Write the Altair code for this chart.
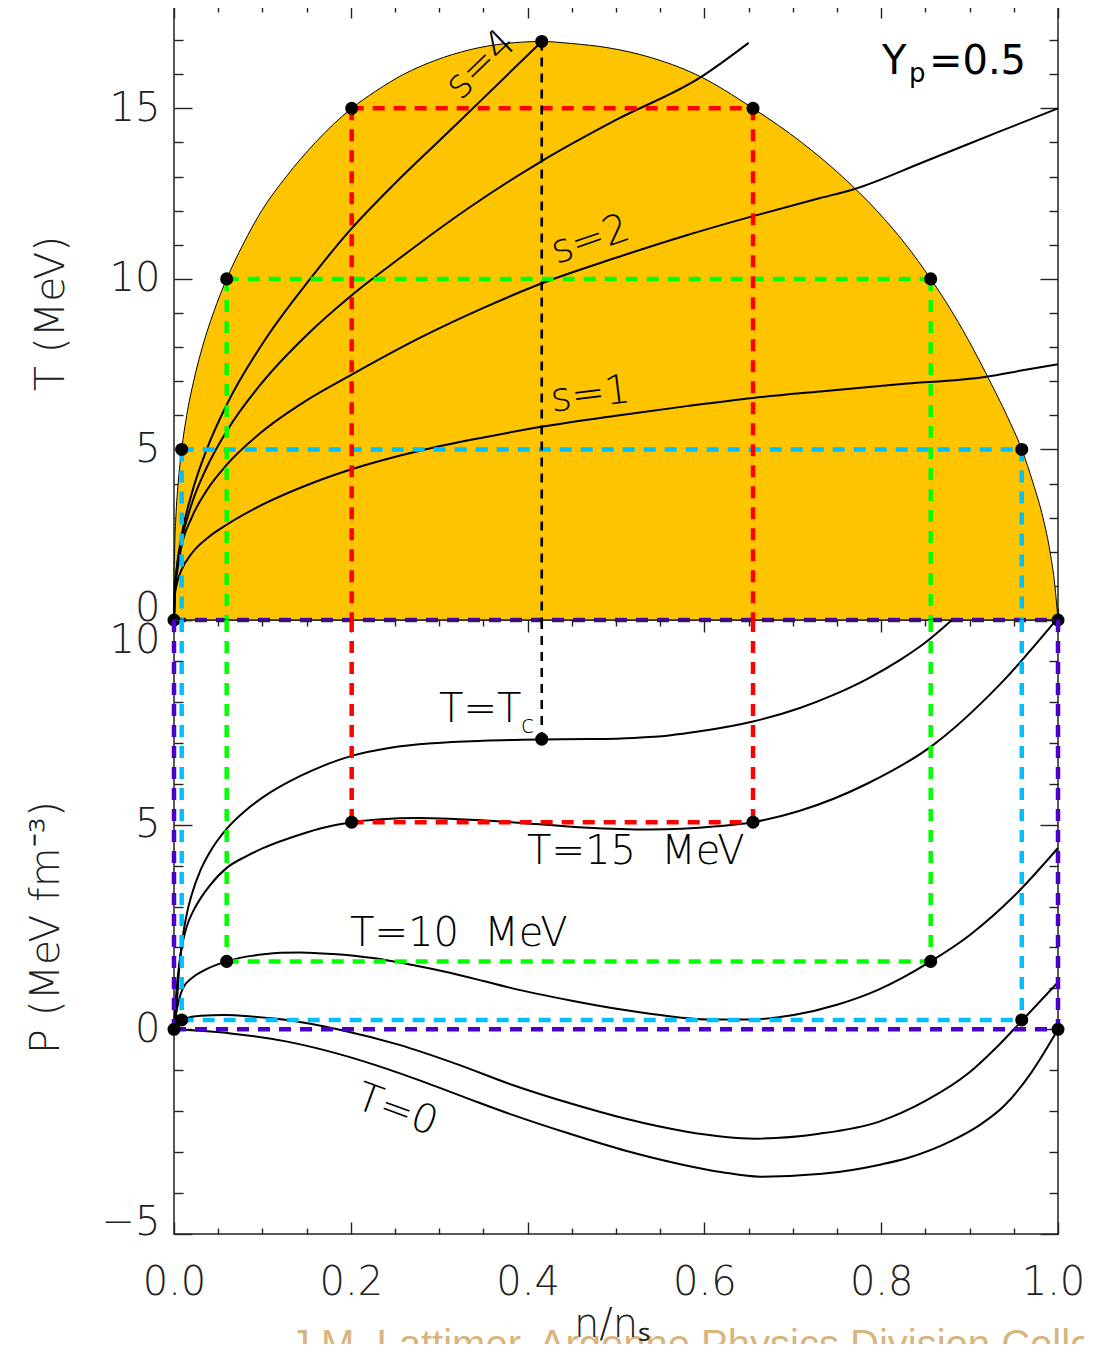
import altair as alt
import pandas as pd

# ---------------- values ----------------
# upper panel: liquid-gas coexistence boundary T(n/ns)
dome_x = [0.0, 0.0001, 0.00068, 0.0021, 0.0047, 0.0087, 0.0144, 0.0222, 0.0321, 0.0445, 0.0596,
          0.0779, 0.0992, 0.127, 0.160, 0.201, 0.228, 0.26, 0.295, 0.335, 0.375, 0.416, 0.45,
          0.49, 0.538, 0.59, 0.655, 0.710, 0.756, 0.795, 0.828, 0.856, 0.881, 0.903, 0.923,
          0.942, 0.959, 0.972, 0.983, 0.991, 0.9965, 1.0]
dome_T = [0.0, 1.0, 2.0, 3.0, 4.0, 5.0, 6.0, 7.0, 8.0, 9.0, 10.0,
          11.0, 12.0, 13.0, 14.0, 15.0, 15.5, 16.0, 16.4, 16.72, 16.9, 16.96, 16.9,
          16.78, 16.5, 16.0, 15.0, 14.0, 13.0, 12.0, 11.0, 10.0, 9.0, 8.0, 7.0,
          6.0, 5.0, 4.0, 3.0, 2.0, 1.0, 0.0]

# isentropes (entropy per baryon s = 1, 2, 3, 4)
s1_x = [0.0, 0.001, 0.003, 0.008, 0.02, 0.04, 0.06, 0.1, 0.15, 0.2, 0.278, 0.35, 0.417,
        0.5, 0.58, 0.655, 0.731, 0.82, 0.919, 0.96, 1.0]
s1_T = [0.0, 0.73, 1.04, 1.44, 1.95, 2.45, 2.8, 3.38, 3.95, 4.41, 4.96, 5.35, 5.67,
        5.99, 6.27, 6.51, 6.70, 6.91, 7.13, 7.32, 7.5]
s2_x = [0.0, 0.001, 0.003, 0.008, 0.02, 0.037, 0.06, 0.1, 0.15, 0.2, 0.278, 0.35, 0.417,
        0.5, 0.58, 0.655, 0.731, 0.768, 0.85, 0.93, 1.0]
s2_T = [0.0, 0.82, 1.3, 2.1, 3.0, 3.8, 4.56, 5.53, 6.44, 7.18, 8.27, 9.15, 9.88,
        10.62, 11.28, 11.84, 12.37, 12.62, 13.45, 14.28, 15.0]
s3_x = [0.0, 0.001, 0.003, 0.008, 0.02, 0.037, 0.06, 0.1, 0.15, 0.2, 0.256, 0.33, 0.417,
        0.5, 0.595, 0.65]
s3_T = [0.0, 0.89, 1.46, 2.26, 3.4, 4.47, 5.55, 6.97, 8.35, 9.5, 10.62, 12.02, 13.47,
        14.66, 15.9, 16.92]
s4_x = [0.0, 0.001, 0.003, 0.008, 0.02, 0.037, 0.06, 0.1, 0.154, 0.2, 0.25, 0.3, 0.35, 0.416]
s4_T = [0.0, 0.9, 1.5, 2.4, 3.7, 5.0, 6.33, 8.1, 10.0, 11.45, 12.8, 14.05, 15.3, 16.96]

# lower panel: isotherms P(n/ns)
i0_x = [0.0, 0.064, 0.128, 0.191, 0.24, 0.287, 0.335, 0.383, 0.446, 0.51, 0.574, 0.62,
        0.663, 0.733, 0.8, 0.829, 0.88, 0.91, 0.94, 0.97, 1.0]
i0_P = [0.0, -0.1, -0.30, -0.63, -0.96, -1.32, -1.71, -2.09, -2.54, -2.96, -3.30, -3.49,
        -3.60, -3.53, -3.30, -3.15, -2.72, -2.36, -1.85, -1.05, 0.0]
i5_x = [0.0, 0.0087, 0.03, 0.057, 0.09, 0.128, 0.19, 0.255, 0.32, 0.383, 0.45, 0.51,
        0.58, 0.657, 0.73, 0.797, 0.85, 0.9, 0.93, 0.96, 1.0]
i5_P = [0.0, 0.23, 0.33, 0.35, 0.31, 0.23, -0.02, -0.38, -0.85, -1.36, -1.82, -2.18,
        -2.5, -2.67, -2.55, -2.26, -1.75, -1.05, -0.45, 0.23, 1.15]
i10_x = [0.0, 0.003, 0.006, 0.01, 0.02, 0.033, 0.0596, 0.08, 0.1, 0.12, 0.143, 0.18,
         0.225, 0.27, 0.312, 0.35, 0.383, 0.45, 0.51, 0.56, 0.606, 0.65, 0.701, 0.75,
         0.797, 0.856, 0.9, 0.95, 1.0]
i10_P = [0.0, 0.45, 0.75, 1.0, 1.25, 1.43, 1.66, 1.77, 1.83, 1.87, 1.88, 1.84,
         1.74, 1.57, 1.38, 1.18, 1.0, 0.70, 0.47, 0.32, 0.24, 0.24, 0.35, 0.6,
         0.97, 1.66, 2.3, 3.25, 4.43]
i15_x = [0.0, 0.003, 0.006, 0.01, 0.015, 0.022, 0.03, 0.04, 0.06, 0.08, 0.1, 0.143,
         0.17, 0.201, 0.235, 0.275, 0.369, 0.463, 0.538, 0.614, 0.655, 0.708, 0.784,
         0.859, 0.934, 1.0]
i15_P = [0.0, 1.0, 1.6, 2.14, 2.55, 2.9, 3.2, 3.5, 3.95, 4.21, 4.42, 4.76,
         4.93, 5.06, 5.13, 5.16, 5.08, 4.93, 4.88, 4.96, 5.06, 5.34, 6.0,
         6.95, 8.42, 10.05]
ic_x = [0.0, 0.003, 0.006, 0.01, 0.015, 0.02, 0.03, 0.04, 0.06, 0.08, 0.1, 0.143,
        0.17, 0.201, 0.245, 0.293, 0.35, 0.417, 0.47, 0.52, 0.56, 0.595, 0.655,
        0.708, 0.746, 0.785, 0.821, 0.85, 0.88]
ic_P = [0.0, 0.6, 1.52, 2.27, 2.87, 3.29, 3.89, 4.31, 4.91, 5.33, 5.66, 6.19,
        6.45, 6.68, 6.88, 6.99, 7.05, 7.08, 7.09, 7.12, 7.18, 7.28, 7.52,
        7.85, 8.17, 8.57, 9.02, 9.45, 10.0]

# coexistence (Maxwell construction) points of each isotherm
coex_key = ["T15", "T10", "T5", "T0"]
coex_T = [15, 10, 5, 0]
coex_lo = [0.201, 0.0596, 0.0087, 0.0]
coex_hi = [0.655, 0.856, 0.959, 1.0]
coex_P = [5.06, 1.66, 0.23, 0.0]

# critical point
crit_x = 0.416
crit_T = 16.96
crit_P = 7.09

# axis ticks
x_major = [0.0, 0.2, 0.4, 0.6, 0.8, 1.0]
x_minor = [0.05, 0.1, 0.15, 0.25, 0.3, 0.35, 0.45, 0.5, 0.55, 0.65, 0.7, 0.75, 0.85, 0.9, 0.95]
T_major = [0, 5, 10, 15]
T_minor = [1, 2, 3, 4, 6, 7, 8, 9, 11, 12, 13, 14, 16, 17]
P_major = [-5, 0, 5, 10]
P_minor = [-4, -3, -2, -1, 1, 2, 3, 4, 6, 7, 8, 9]
T_range = [0, 18]
P_range = [-5, 10]

# annotation texts (anchored in data units)
top_lbl = ["s=4", "s=2", "s=1"]
top_lbl_x = [0.347, 0.471, 0.471]
top_lbl_T = [16.28, 11.14, 6.6]
top_lbl_angle = [316, 341, 353]

# ---------------- styles ----------------
ORANGE = "#FFC400"
AXC = "#222222"
FONT = "DejaVu Sans"
W = 200
KEY_DOMAIN = ["T15", "T10", "T5", "T0"]
KEY_RANGE = ["#FF0000", "#00FF00", "#00BFFF", "#4B00C8"]
DASH = [12, 9]
PW, PH = 884, 614           # plot area of each panel
FOOT_W, FOOT_H = 910, 110   # strip under the plots (axis title + cut-off credit line)

XS = alt.Scale(domain=[0, 1], nice=False, zero=False)
TS = alt.Scale(domain=T_range, nice=False, zero=False)
PS = alt.Scale(domain=P_range, nice=False, zero=False)
KS = alt.Scale(domain=KEY_DOMAIN, range=KEY_RANGE)
XF = alt.Scale(domain=[0, FOOT_W / PW], nice=False, zero=False)


def tick_axis(orient, values, size):
    return alt.Axis(orient=orient, values=values, tickSize=size, offset=-size,
                    labels=False, domain=False, grid=False, ticks=True, minExtent=0,
                    tickColor=AXC, tickWidth=1.4, title=None)


def X(field, axis=None):
    return alt.X(f"{field}:Q", scale=XS, axis=axis)


def Y(field, scale, axis=None):
    return alt.Y(f"{field}:Q", scale=scale, axis=axis)


# ---------------- tables ----------------
dome_df = pd.DataFrame({"x": dome_x, "T": dome_T})
isen_df = pd.concat([
    pd.DataFrame({"x": xs, "T": ts, "s": name})
    for xs, ts, name in [(s1_x, s1_T, "s1"), (s2_x, s2_T, "s2"), (s3_x, s3_T, "s3"), (s4_x, s4_T, "s4")]
])
iso_df = pd.concat([
    pd.DataFrame({"x": xs, "P": ps, "iso": name})
    for xs, ps, name in [(i0_x, i0_P, "T0"), (i5_x, i5_P, "T5"), (i10_x, i10_P, "T10"),
                         (i15_x, i15_P, "T15"), (ic_x, ic_P, "Tc")]
])

hr_df = pd.DataFrame({"x1": coex_lo, "x2": coex_hi, "T": coex_T, "P": coex_P, "key": coex_key})
vr_rows = []
for k, t, lo, hi, p in zip(coex_key, coex_T, coex_lo, coex_hi, coex_P):
    for xv in (lo, hi):
        vr_rows.append({"x": xv, "T": t, "T0": 0.0, "Ptop": P_range[1], "P": p, "key": k})
vr_df = pd.DataFrame(vr_rows)
vr_top_df = vr_df[vr_df["T"] > 0]
tc_df = pd.DataFrame({"x": [crit_x], "T": [crit_T], "T0": [0.0], "Ptop": [P_range[1]], "P": [crit_P]})

dots_top_df = pd.DataFrame({"x": coex_lo + coex_hi + [crit_x], "T": coex_T + coex_T + [crit_T]})
dots_bot_df = pd.DataFrame({"x": coex_lo + coex_hi + [crit_x], "P": coex_P + coex_P + [crit_P]})

# ---------------- upper panel ----------------
axis_T = alt.Axis(orient="left", values=T_major, format="d", ticks=False, domain=False, grid=False,
                  labelFont=FONT, labelFontSize=40, labelFontWeight=W, labelColor=AXC,
                  labelPadding=14,
                  labelBaseline={"condition": {"test": "datum.value == 0", "value": "alphabetic"},
                                 "value": "middle"},
                  title="T (MeV)", titleFont=FONT, titleFontSize=41, titleFontWeight=W,
                  titleColor=AXC, titlePadding=37)

dome_area = alt.Chart(dome_df).mark_area(color=ORANGE, interpolate="monotone").encode(
    x=X("x"), y=Y("T", TS, axis_T))
dome_line = alt.Chart(dome_df).mark_line(color="black", strokeWidth=1, interpolate="monotone").encode(
    x=X("x", tick_axis("bottom", x_major, 12)), y=Y("T", TS, tick_axis("left", T_major, 18)))
isen = alt.Chart(isen_df).mark_line(color="black", strokeWidth=2, interpolate="monotone").encode(
    x=X("x", tick_axis("bottom", x_minor, 6)), y=Y("T", TS, tick_axis("left", T_minor, 9)),
    detail="s:N")
hr_top = alt.Chart(hr_df).mark_rule(strokeDash=DASH, strokeWidth=4.5).encode(
    x=X("x1", tick_axis("top", x_major, 12)), x2="x2:Q",
    y=Y("T", TS, tick_axis("right", T_major, 18)),
    color=alt.Color("key:N", scale=KS, legend=None))
vr_top = alt.Chart(vr_top_df).mark_rule(strokeDash=DASH, strokeWidth=4.5).encode(
    x=X("x", tick_axis("top", x_minor, 6)),
    y=Y("T", TS, tick_axis("right", T_minor, 9)), y2="T0:Q",
    color=alt.Color("key:N", scale=KS, legend=None))
tc_top = alt.Chart(tc_df).mark_rule(strokeDash=[9, 7], strokeWidth=2.6, color="black").encode(
    x=X("x"), y=Y("T", TS), y2="T0:Q")
dots_top = alt.Chart(dots_top_df).mark_circle(size=170, color="black", opacity=1).encode(
    x=X("x"), y=Y("T", TS))


def ttxt(t, xv, tv, size=40, angle=0, align="left", baseline="alphabetic", weight=W):
    return alt.Chart(pd.DataFrame({"x": [xv], "T": [tv], "txt": [t]})).mark_text(
        font=FONT, fontSize=size, fontWeight=weight, color="black", angle=angle,
        align=align, baseline=baseline).encode(x=X("x"), y=Y("T", TS), text="txt:N")


top_layers = [dome_area, dome_line, isen, hr_top, vr_top, tc_top, dots_top]
for t, xv, tv, ang in zip(top_lbl, top_lbl_x, top_lbl_T, top_lbl_angle):
    top_layers.append(ttxt(t, xv, tv, angle=ang, align="center", baseline="middle"))
top_layers += [
    ttxt("Y", 0.801, 16.01, weight=400),
    ttxt("p", 0.8314, 15.78, size=26, weight=400),
    ttxt("=0.5", 0.854, 16.01, weight=400),
]

top = alt.layer(*top_layers).resolve_axis(x="independent", y="independent").properties(
    width=PW, height=PH)

# ---------------- lower panel ----------------
axis_P = alt.Axis(orient="left", values=P_major, format="d", ticks=False, domain=False, grid=False,
                  labelFont=FONT, labelFontSize=40, labelFontWeight=W, labelColor=AXC,
                  labelPadding=14,
                  labelBaseline={"condition": [{"test": "datum.value == 10", "value": "top"},
                                               {"test": "datum.value == -5", "value": "alphabetic"}],
                                 "value": "middle"},
                  title="P (MeV fm\u207b\u00b3)", titleFont=FONT, titleFontSize=41, titleFontWeight=W,
                  titleColor=AXC, titlePadding=34)
axis_n = alt.Axis(orient="bottom", values=x_major, format=".1f", ticks=False, domain=False, grid=False,
                  labelFlush=False,
                  labelFont=FONT, labelFontSize=40, labelFontWeight=W, labelColor=AXC,
                  labelPadding=28,
                  labelOffset={"condition": {"test": "datum.value == 1", "value": -5}, "value": 0},
                  title=None)

iso = alt.Chart(iso_df).mark_line(color="black", strokeWidth=2, interpolate="monotone").encode(
    x=X("x", axis_n), y=Y("P", PS, axis_P), detail="iso:N")
hr_bot = alt.Chart(hr_df).mark_rule(strokeDash=DASH, strokeWidth=4.5).encode(
    x=X("x1", tick_axis("bottom", x_major, 12)), x2="x2:Q",
    y=Y("P", PS, tick_axis("left", P_major, 18)),
    color=alt.Color("key:N", scale=KS, legend=None))
vr_bot = alt.Chart(vr_df).mark_rule(strokeDash=DASH, strokeWidth=4.5).encode(
    x=X("x", tick_axis("bottom", x_minor, 6)),
    y=Y("Ptop", PS, tick_axis("left", P_minor, 9)), y2="P:Q",
    color=alt.Color("key:N", scale=KS, legend=None))
tc_bot = alt.Chart(tc_df).mark_rule(strokeDash=[9, 7], strokeWidth=2.6, color="black").encode(
    x=X("x", tick_axis("top", x_major, 12)),
    y=Y("Ptop", PS, tick_axis("right", P_major, 18)), y2="P:Q")
dots_bot = alt.Chart(dots_bot_df).mark_circle(size=170, color="black", opacity=1).encode(
    x=X("x", tick_axis("top", x_minor, 6)), y=Y("P", PS, tick_axis("right", P_minor, 9)))


def ptxt(t, xv, pv, size=40, angle=0, align="left", baseline="alphabetic"):
    return alt.Chart(pd.DataFrame({"x": [xv], "P": [pv], "txt": [t]})).mark_text(
        font=FONT, fontSize=size, fontWeight=W, color="black", angle=angle,
        align=align, baseline=baseline).encode(x=X("x"), y=Y("P", PS), text="txt:N")


bot_layers = [iso, hr_bot, vr_bot, tc_bot, dots_bot,
              ptxt("T=T", 0.2998, 7.51),
              ptxt("c", 0.3925, 7.24, size=24),
              ptxt("T=15\u00a0\u00a0MeV", 0.3993, 4.03),
              ptxt("T=10\u00a0\u00a0MeV", 0.1991, 2.03),
              ptxt("T=0", 0.252, -1.98, angle=20, align="center", baseline="middle")]

bottom = alt.layer(*bot_layers).resolve_axis(x="independent", y="independent").properties(
    width=PW, height=PH)

# ---------------- strip below: x title and the credit line cut by the page edge ----------------
foot_title = alt.Chart(pd.DataFrame({"x": [0.4955], "txt": ["n/n\u209b"]})).mark_text(
    font=FONT, fontSize=40, fontWeight=W, color=AXC, align="center", baseline="alphabetic",
    clip=True).encode(
    x=alt.X("x:Q", scale=XF, axis=None), y=alt.value(103), text="txt:N")
foot_credit = alt.Chart(pd.DataFrame(
    {"x": [0.131], "txt": ["J.M. Lattimer, Argonne Physics Division Colloquium"]})).mark_text(
    font="Liberation Sans", fontSize=40, color="#D8B57F", align="left", baseline="alphabetic",
    clip=True).encode(
    x=alt.X("x:Q", scale=XF, axis=None), y=alt.value(124), text="txt:N")
foot = alt.layer(foot_credit, foot_title).properties(
    width=FOOT_W, height=FOOT_H, view=alt.ViewBackground(strokeOpacity=0))

chart = alt.vconcat(top, bottom, foot, spacing=0, bounds="flush").properties(
    padding={"left": 16, "top": -4, "right": 0, "bottom": 0}
).configure_view(stroke=AXC, strokeWidth=1.5)

chart.save("out.html", embed_options={"renderer": "svg", "actions": False})
